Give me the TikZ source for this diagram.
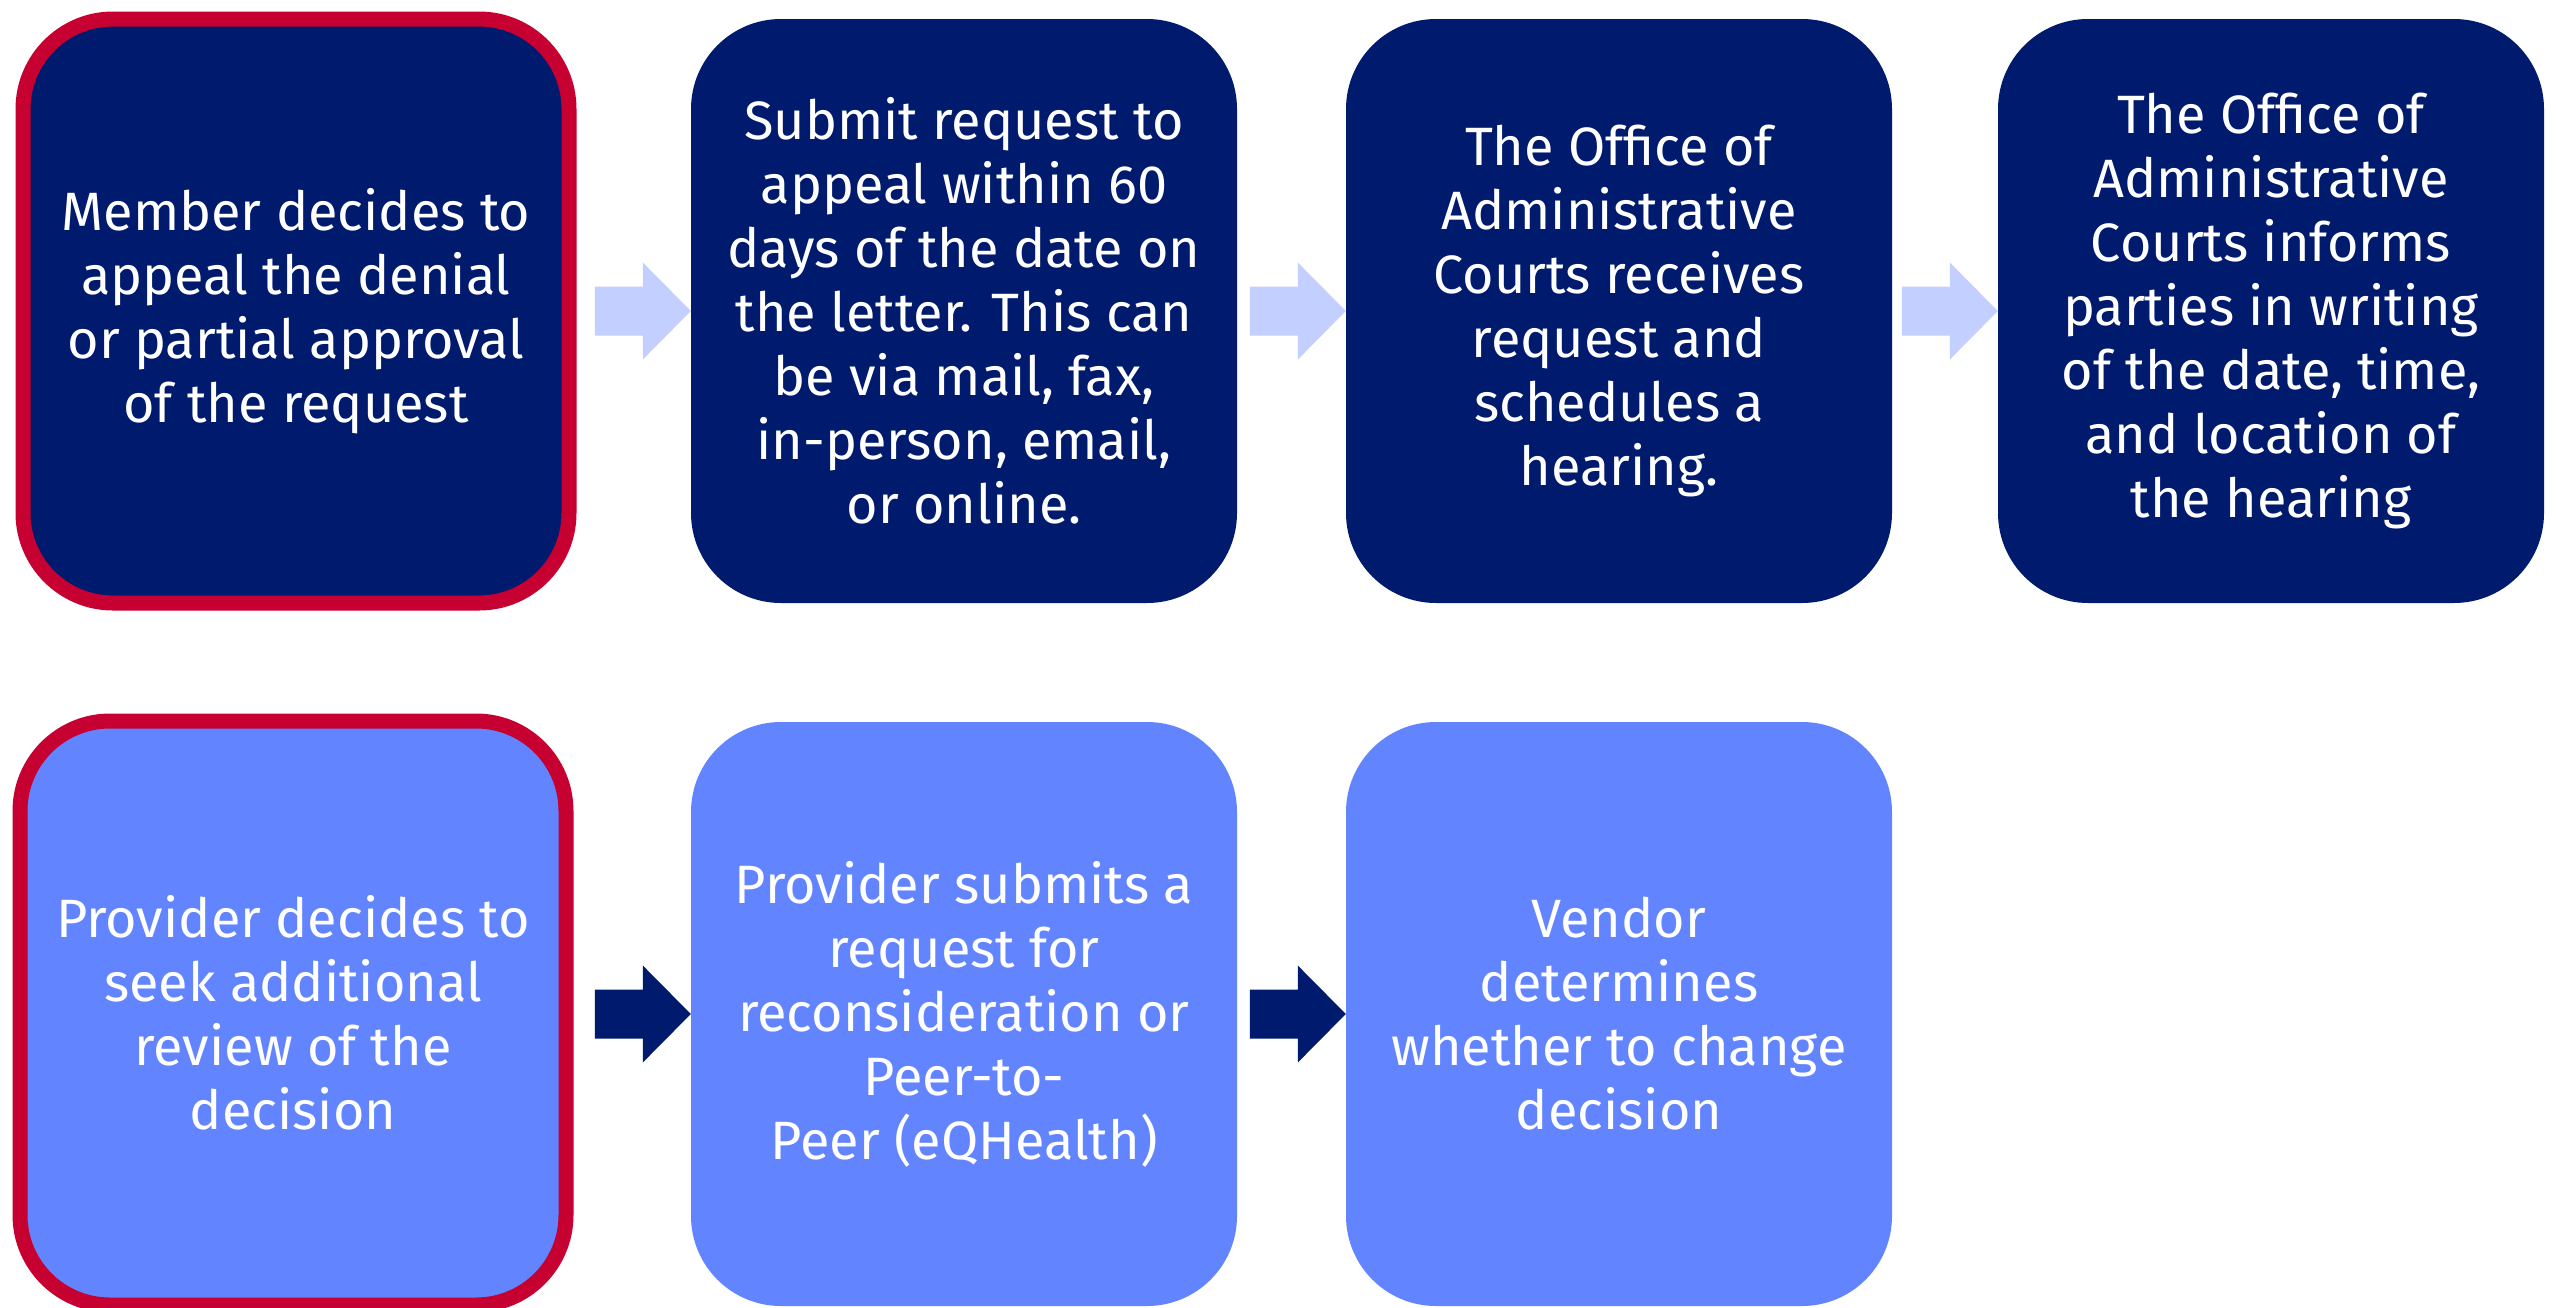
\documentclass[tikz,border=0pt]{standalone}
\usepackage{fontspec}
\setmainfont{Fira Sans}
\usetikzlibrary{calc}
\definecolor{navy}{RGB}{0, 26, 110}
\definecolor{sky}{RGB}{98, 133, 255}
\definecolor{pale}{RGB}{195, 207, 255}
\definecolor{alert}{RGB}{198, 0, 48}
\newcommand{\stepto}[2]{%
  \fill[#1] ($(#2.west)+(-96, -24.5)$) -- ++(48, 0) -- ++(0, -24) -- (#2.west)
    -- ++(-48, 48.5) -- ++(0, -24) -- ++(-48, 0) -- cycle;}
\tikzset{
  stepbox/.style={rounded corners=90pt, minimum width=546pt, minimum height=584pt,
    inner sep=0pt, align=center, text=white, font=\fontsize{54}{64}\selectfont},
  darkbox/.style={stepbox, fill=navy},
  lightbox/.style={stepbox, fill=sky},
  startbox/.style={draw=alert, line width=15pt}
}

\begin{document}
\begin{tikzpicture}[x=1pt, y=-1pt]

  \useasboundingbox (0, 0) rectangle (2556, 1307);

  \node[darkbox, startbox] (member) at (296, 311)
    {Member decides to\\appeal the denial\\or partial approval\\of the request};
  \node[darkbox] (submit) at (964, 311)
    {Submit request to\\appeal within 60\\days of the date on\\the letter. This can\\be via mail, fax,\\in-person, email,\\or online.};
  \node[darkbox] (receives) at (1619, 311)
    {The Office of\\Administrative\\Courts receives\\request and\\schedules a\\hearing.};
  \node[darkbox] (informs) at (2271, 311)
    {The Office of\\Administrative\\Courts informs\\parties in writing\\of the date, time,\\and location of\\the hearing};

  \node[lightbox, startbox] (provider) at (293, 1013)
    {Provider decides to\\seek additional\\review of the\\decision};
  \node[lightbox] (reconsider) at (964, 1014)
    {Provider submits a\\request for\\reconsideration or\\Peer-to-\\Peer (eQHealth)};
  \node[lightbox] (vendor) at (1619, 1014)
    {Vendor\\determines\\whether to change\\decision};

  \stepto{pale}{submit}
  \stepto{pale}{receives}
  \stepto{pale}{informs}
  \stepto{navy}{reconsider}
  \stepto{navy}{vendor}

\end{tikzpicture}
\end{document}
